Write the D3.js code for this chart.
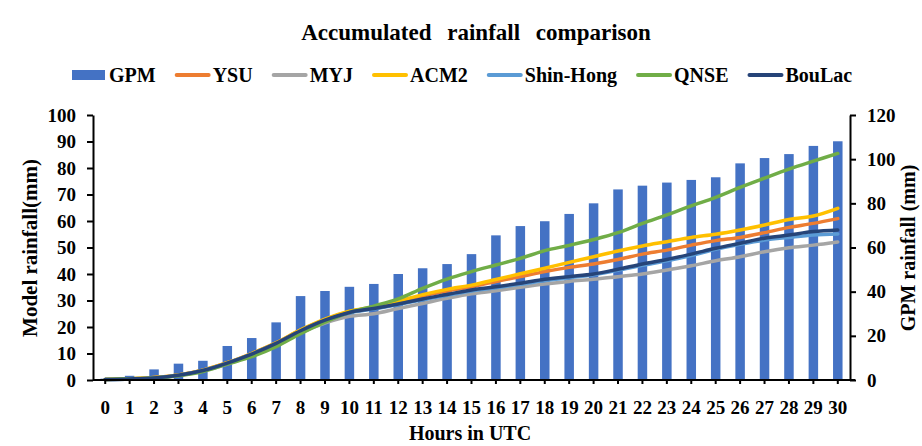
<!DOCTYPE html>
<html>
<head>
<meta charset="utf-8">
<script src="https://cdn.jsdelivr.net/npm/d3@7"></script>
<style>
  html, body { margin: 0; padding: 0; background: #fff; }
  svg text { font-family: "Liberation Serif", "Times New Roman", serif; font-weight: bold; fill: #000; }
</style>
</head>
<body>
<div id="chart"></div>
<script>
// data
const hours = [0,1,2,3,4,5,6,7,8,9,10,11,12,13,14,15,16,17,18,19,20,21,22,23,24,25,26,27,28,29,30];
const gpm = [0.6,1.9,4.8,7.4,8.7,15.4,19.0,26.1,38.0,40.3,42.2,43.5,48.0,50.6,52.5,57.0,65.5,69.7,71.9,75.2,80.0,86.3,88.0,89.4,90.6,91.8,98.1,100.5,102.3,106.0,108.1];
const ysu = [0.2,0.5,0.9,1.9,3.7,6.5,10.0,14.0,18.8,22.8,25.8,27.3,29.4,31.8,33.6,35.2,37.2,39.0,40.9,42.5,43.8,45.5,47.5,49.0,50.9,52.6,53.8,55.6,57.6,59.1,60.9];
const myj = [0.2,0.4,0.8,1.7,3.4,6.0,9.3,13.2,17.8,21.5,24.0,25.0,27.0,28.9,30.8,32.5,33.7,35.0,36.2,37.2,38.0,39.0,40.0,41.5,43.1,45.0,46.5,48.4,49.9,50.9,52.1];
const acm2 = [0.2,0.5,0.9,1.9,3.7,6.5,10.0,14.0,18.9,23.0,26.0,27.6,29.8,32.2,34.2,35.8,37.9,40.1,42.2,44.4,46.5,48.7,50.6,52.2,53.8,55.0,56.6,58.5,60.6,61.9,64.8];
const shinHong = [0.2,0.4,0.8,1.8,3.6,6.4,9.8,13.7,18.5,22.4,25.3,26.8,28.5,30.3,32.0,33.6,34.8,36.1,37.5,38.6,39.7,41.4,43.3,45.0,47.0,49.3,51.2,52.8,53.8,54.7,55.1];
const qnse = [0.2,0.5,0.8,1.6,3.2,6.0,8.8,12.6,17.5,21.8,25.5,27.9,30.6,34.6,38.1,40.9,43.4,45.9,48.8,50.8,53.0,55.6,59.1,62.3,65.7,68.9,72.7,76.2,79.6,82.6,85.5];
const boulac = [0.2,0.4,0.8,1.8,3.6,6.4,9.8,13.8,18.6,22.6,25.5,27.0,28.7,30.6,32.3,34.0,35.2,36.5,38.0,39.0,40.0,41.8,43.8,45.5,47.5,49.7,51.6,53.5,54.7,56.0,56.6];

const seriesNames = ["YSU","MYJ","ACM2","Shin-Hong","QNSE","BouLac"];
const seriesValues = [ysu, myj, acm2, shinHong, qnse, boulac];
const seriesColors = ["#ED7D31","#A5A5A5","#FFC000","#5B9BD5","#70AD47","#264478"];
const BAR_COLOR = "#4472C4";

const leftTicks = [0,10,20,30,40,50,60,70,80,90,100];
const rightTicks = [0,20,40,60,80,100,120];

const W = 922, H = 446;
const m = {left: 93, right: 72, top: 115, bottom: 66};

const svg = d3.select("#chart").append("svg")
    .attr("width", W)
    .attr("height", H);

const x = d3.scaleBand().domain(hours).range([m.left, W - m.right]);
const yL = d3.scaleLinear().domain([0, 100]).range([H - m.bottom, m.top]);
const yR = d3.scaleLinear().domain([0, 120]).range([H - m.bottom, m.top]);

// bars (GPM on the right axis)
const barW = 9.5;
svg.append("g").selectAll("rect")
    .data(gpm)
    .enter()
    .append("rect")
    .attr("x", (d, i) => x(hours[i]) + x.bandwidth() / 2 - barW / 2)
    .attr("y", d => yR(d))
    .attr("width", barW)
    .attr("height", d => yR(0) - yR(d))
    .attr("fill", BAR_COLOR);

// model lines (left axis)
const line = d3.line()
    .x((d, i) => x(hours[i]) + x.bandwidth() / 2)
    .y(d => yL(d))
    .curve(d3.curveCatmullRom.alpha(0.5));

seriesValues.forEach((vals, k) => {
    svg.append("path")
        .attr("d", line(vals))
        .attr("fill", "none")
        .attr("stroke", seriesColors[k])
        .attr("stroke-width", 3.5)
        .attr("stroke-linecap", "round");
});

// axes
const fontSize = "19px";
const axL = svg.append("g")
    .attr("transform", `translate(${m.left},0)`)
    .call(d3.axisLeft(yL).tickValues(leftTicks).tickSize(6).tickSizeOuter(0).tickPadding(11));
const axR = svg.append("g")
    .attr("transform", `translate(${W - m.right},0)`)
    .call(d3.axisRight(yR).tickValues(rightTicks).tickSize(6).tickSizeOuter(0).tickPadding(11));
const axB = svg.append("g")
    .attr("transform", `translate(0,${H - m.bottom})`)
    .call(d3.axisBottom(x).tickSize(4).tickSizeOuter(0).tickPadding(17));

[axL, axR, axB].forEach(a => {
    a.select(".domain").attr("stroke", "#000").attr("stroke-width", 2);
    a.selectAll(".tick line").attr("stroke", "#000").attr("stroke-width", 2);
    a.selectAll("text").style("font-family", "Liberation Serif, serif")
        .style("font-weight", "bold").style("font-size", fontSize).attr("fill", "#000");
});
axB.select(".domain").attr("d", `M${m.left},0H${W - m.right + 5}`);

// title
svg.append("text")
    .attr("x", 476)
    .attr("y", 40)
    .attr("text-anchor", "middle")
    .style("font-size", "23px")
    .style("word-spacing", "10px")
    .text("Accumulated rainfall comparison");

// axis titles
svg.append("text")
    .attr("transform", "translate(37,248) rotate(-90)")
    .attr("text-anchor", "middle")
    .style("font-size", "21px")
    .text("Model rainfall(mm)");
svg.append("text")
    .attr("transform", "translate(915,248) rotate(-90)")
    .attr("text-anchor", "middle")
    .style("font-size", "20px")
    .text("GPM rainfall (mm)");
svg.append("text")
    .attr("x", 470)
    .attr("y", 440)
    .attr("text-anchor", "middle")
    .style("font-size", "20px")
    .text("Hours in UTC");

// legend
const legendItems = ["GPM"].concat(seriesNames);
const legendColors = [BAR_COLOR].concat(seriesColors);
const lg = svg.append("g");
let lx = 72;
legendItems.forEach((name, i) => {
    if (i === 0) {
        lg.append("rect").attr("x", lx).attr("y", 70).attr("width", 33).attr("height", 10).attr("fill", legendColors[i]);
    } else {
        lg.append("line").attr("x1", lx + 1).attr("x2", lx + 33).attr("y1", 75).attr("y2", 75)
            .attr("stroke", legendColors[i]).attr("stroke-width", 4).attr("stroke-linecap", "round");
    }
    const t = lg.append("text")
        .attr("x", lx + 37)
        .attr("y", 82)
        .style("font-size", "20px")
        .text(name);
    lx += 37 + t.node().getComputedTextLength() + 20;
});
</script>
</body>
</html>
